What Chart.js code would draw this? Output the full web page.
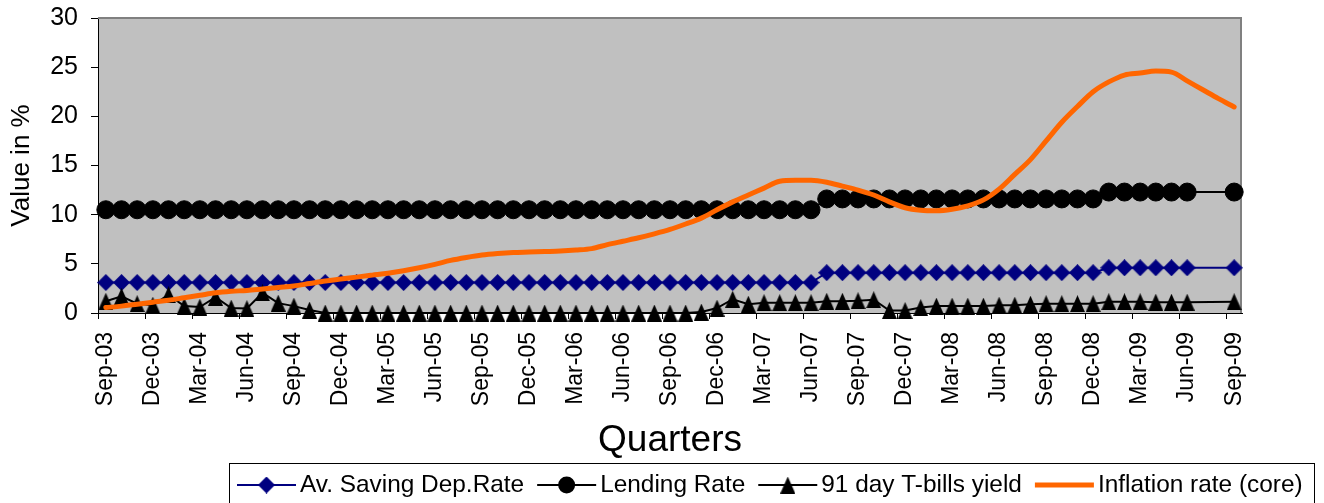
<!DOCTYPE html>
<html>
<head>
<meta charset="utf-8">
<title>Interest rates and inflation, Sep-03 to Sep-09</title>
<script src="https://cdn.jsdelivr.net/npm/chart.js@4.4.1/dist/chart.umd.min.js"></script>
<style>
  html, body { margin: 0; padding: 0; background: #ffffff; overflow: hidden; }
  canvas { display: block; }
</style>
</head>
<body>
<canvas id="rates" width="1324" height="503"></canvas>
<script>
// Monthly observations, September 2003 to September 2009
const months = [
  'Sep-03','Oct-03','Nov-03','Dec-03',
  'Jan-04','Feb-04','Mar-04','Apr-04','May-04','Jun-04','Jul-04','Aug-04','Sep-04','Oct-04','Nov-04','Dec-04',
  'Jan-05','Feb-05','Mar-05','Apr-05','May-05','Jun-05','Jul-05','Aug-05','Sep-05','Oct-05','Nov-05','Dec-05',
  'Jan-06','Feb-06','Mar-06','Apr-06','May-06','Jun-06','Jul-06','Aug-06','Sep-06','Oct-06','Nov-06','Dec-06',
  'Jan-07','Feb-07','Mar-07','Apr-07','May-07','Jun-07','Jul-07','Aug-07','Sep-07','Oct-07','Nov-07','Dec-07',
  'Jan-08','Feb-08','Mar-08','Apr-08','May-08','Jun-08','Jul-08','Aug-08','Sep-08','Oct-08','Nov-08','Dec-08',
  'Jan-09','Feb-09','Mar-09','Apr-09','May-09','Jun-09','Jul-09','Aug-09','Sep-09'
];

// Average savings deposit rate (%)
const savingRate = [
  3.1, 3.1, 3.1, 3.1,
  3.1, 3.1, 3.1, 3.1, 3.1, 3.1, 3.1, 3.1, 3.1, 3.1, 3.1, 3.1,
  3.1, 3.1, 3.1, 3.1, 3.1, 3.1, 3.1, 3.1, 3.1, 3.1, 3.1, 3.1,
  3.1, 3.1, 3.1, 3.1, 3.1, 3.1, 3.1, 3.1, 3.1, 3.1, 3.1, 3.1,
  3.1, 3.1, 3.1, 3.1, 3.1, 3.1, 4.1, 4.1, 4.1, 4.1, 4.1, 4.1,
  4.1, 4.1, 4.1, 4.1, 4.1, 4.1, 4.1, 4.1, 4.1, 4.1, 4.1, 4.1,
  4.6, 4.6, 4.6, 4.6, 4.6, 4.6, null, null, 4.6
];

// Lending rate (%)
const lendingRate = [
  10.5, 10.5, 10.5, 10.5,
  10.5, 10.5, 10.5, 10.5, 10.5, 10.5, 10.5, 10.5, 10.5, 10.5, 10.5, 10.5,
  10.5, 10.5, 10.5, 10.5, 10.5, 10.5, 10.5, 10.5, 10.5, 10.5, 10.5, 10.5,
  10.5, 10.5, 10.5, 10.5, 10.5, 10.5, 10.5, 10.5, 10.5, 10.5, 10.5, 10.5,
  10.5, 10.5, 10.5, 10.5, 10.5, 10.5, 11.6, 11.6, 11.6, 11.6, 11.6, 11.6,
  11.6, 11.6, 11.6, 11.6, 11.6, 11.6, 11.6, 11.6, 11.6, 11.6, 11.6, 11.6,
  12.3, 12.3, 12.3, 12.3, 12.3, 12.3, null, null, 12.3
];

// 91-day Treasury bill yield (%)
const tbillYield = [
  1.2, 1.7, 0.95, 0.8,
  1.85, 0.7, 0.6, 1.6, 0.5, 0.45, 2.05, 1.0, 0.7, 0.3, 0, 0,
  0, 0, 0, 0, 0, 0, 0, 0, 0, 0, 0, 0,
  0, 0, 0, 0, 0, 0, 0, 0, 0, 0, 0.1, 0.5,
  1.4, 0.9, 1.05, 1.05, 1.05, 1.05, 1.2, 1.2, 1.25, 1.35, 0.25, 0.25,
  0.55, 0.7, 0.7, 0.7, 0.7, 0.8, 0.8, 0.9, 0.95, 0.95, 0.95, 0.95,
  1.15, 1.15, 1.15, 1.1, 1.1, 1.1, null, null, 1.15
];

// Core inflation rate (%)
const coreInflation = [
  0.55, 0.7, 0.9, 1.1,
  1.3, 1.55, 1.8, 2.05, 2.2, 2.3, 2.45, 2.6, 2.75, 3.0, 3.25, 3.45,
  3.65, 3.85, 4.05, 4.3, 4.6, 4.95, 5.35, 5.65, 5.9, 6.05, 6.15, 6.2,
  6.25, 6.3, 6.4, 6.55, 6.95, 7.3, 7.65, 8.05, 8.5, 9.05, 9.65, 10.5,
  11.3, 12.0, 12.7, 13.4, 13.5, 13.5, 13.3, 12.9, 12.5, 12.0, 11.3, 10.7,
  10.45, 10.4, 10.55, 10.9, 11.5, 12.6, 14.1, 15.6, 17.5, 19.4, 21.0, 22.5,
  23.5, 24.2, 24.4, 24.6, 24.5, 23.6, 22.7, 21.8, 20.95
];

const FONT = '"Liberation Sans", Arial, Helvetica, sans-serif';

// Marker images: a slightly tall triangle and a diamond
function makeTriangle(w, h, color) {
  const c = document.createElement('canvas');
  c.width = w; c.height = h;
  const g = c.getContext('2d');
  g.fillStyle = color;
  g.beginPath();
  g.moveTo(w / 2, 0);
  g.lineTo(w, h);
  g.lineTo(0, h);
  g.closePath();
  g.fill();
  return c;
}
function makeDiamond(w, h, color) {
  const c = document.createElement('canvas');
  c.width = w; c.height = h;
  const g = c.getContext('2d');
  g.fillStyle = color;
  g.beginPath();
  g.moveTo(w / 2, 0);
  g.lineTo(w, h / 2);
  g.lineTo(w / 2, h);
  g.lineTo(0, h / 2);
  g.closePath();
  g.fill();
  return c;
}
const triangleMarker = makeTriangle(15, 17, '#000000');
const diamondMarker = makeDiamond(17, 17, '#000080');

// Gray plot area with a gray frame on its top and right sides
const plotFrame = {
  id: 'plotFrame',
  beforeDraw(chart) {
    const { ctx, chartArea: a } = chart;
    ctx.save();
    ctx.fillStyle = '#ffffff';
    ctx.fillRect(0, 0, chart.width, chart.height);
    ctx.fillStyle = '#C0C0C0';
    ctx.fillRect(a.left, a.top, a.right - a.left, a.bottom - a.top);
    ctx.restore();
  },
  beforeDatasetsDraw(chart) {
    const { ctx, chartArea: a } = chart;
    ctx.save();
    ctx.strokeStyle = '#808080';
    ctx.lineWidth = 2;
    ctx.beginPath();
    ctx.moveTo(a.left, a.top);
    ctx.lineTo(a.right - 1, a.top);
    ctx.lineTo(a.right - 1, a.bottom);
    ctx.stroke();
    ctx.restore();
  }
};

// Boxed legend below the axis title
function drawLegendMarker(ctx, ds, x, y) {
  if (ds.pointStyle === 'circle') {
    ctx.fillStyle = ds.pointBackgroundColor;
    ctx.beginPath(); ctx.arc(x, y, 8.5, 0, Math.PI * 2); ctx.fill();
  } else if (ds.pointStyle instanceof HTMLCanvasElement) {
    ctx.drawImage(ds.pointStyle, x - ds.pointStyle.width / 2, y - ds.pointStyle.height / 2);
  }
}
const boxedLegend = {
  id: 'boxedLegend',
  afterDraw(chart) {
    const ctx = chart.ctx;
    ctx.save();
    ctx.font = '24.4px ' + FONT;
    ctx.textBaseline = 'middle';
    ctx.textAlign = 'left';
    const y = 485;
    let x = 237;
    const items = chart.data.datasets.slice().sort((p, q) => p.legendIndex - q.legendIndex);
    items.forEach(ds => {
      ctx.strokeStyle = ds.borderColor;
      ctx.lineWidth = ds.borderWidth;
      ctx.lineCap = 'butt';
      ctx.beginPath(); ctx.moveTo(x, y); ctx.lineTo(x + 59, y); ctx.stroke();
      if (ds.pointRadius > 0) drawLegendMarker(ctx, ds, x + 29.5, y);
      ctx.fillStyle = '#000000';
      ctx.fillText(ds.label, x + 63, y);
      x = x + 63 + ctx.measureText(ds.label).width + 13;
    });
    ctx.strokeStyle = '#000000';
    ctx.lineWidth = 1;
    ctx.strokeRect(229.5, 463.5, Math.round(x - 2) - 229, 60);
    ctx.restore();
  }
};

Chart.defaults.font.family = FONT;
Chart.defaults.color = '#000000';

new Chart(document.getElementById('rates'), {
  type: 'line',
  data: {
    labels: months,
    datasets: [
      {
        label: 'Av. Saving Dep.Rate', legendIndex: 0, order: 4,
        data: savingRate,
        borderColor: '#000080', backgroundColor: '#000080', borderWidth: 2,
        pointStyle: diamondMarker, pointRadius: 8,
        pointBackgroundColor: '#000080', pointBorderColor: '#000080',
        spanGaps: true, tension: 0, clip: false
      },
      {
        label: 'Lending Rate', legendIndex: 1, order: 3,
        data: lendingRate,
        borderColor: '#000000', backgroundColor: '#000000', borderWidth: 2,
        pointStyle: 'circle', pointRadius: 9, pointBorderWidth: 1,
        pointBackgroundColor: '#000000', pointBorderColor: '#000000',
        spanGaps: true, tension: 0, clip: false
      },
      {
        label: '91 day T-bills yield', legendIndex: 2, order: 2,
        data: tbillYield,
        borderColor: '#000000', backgroundColor: '#000000', borderWidth: 2,
        pointStyle: triangleMarker, pointRadius: 8,
        spanGaps: true, tension: 0, clip: false
      },
      {
        label: 'Inflation rate (core)', legendIndex: 3, order: 1,
        data: coreInflation,
        borderColor: '#FF6600', backgroundColor: '#FF6600', borderWidth: 5,
        pointRadius: 0, cubicInterpolationMode: 'monotone',
        borderCapStyle: 'round', borderJoinStyle: 'round', clip: false
      }
    ]
  },
  options: {
    responsive: false,
    animation: false,
    devicePixelRatio: 1,
    events: [],
    layout: { padding: { left: 0, right: 82, top: 18, bottom: 43 } },
    plugins: {
      legend: { display: false },
      tooltip: { enabled: false }
    },
    scales: {
      x: {
        type: 'category',
        offset: true,
        grid: {
          offset: true,
          drawOnChartArea: false,
          drawTicks: true,
          tickLength: 6,
          color: '#000000',
          tickColor: (ctx) => (ctx.index % 3 === 0 ? '#000000' : 'rgba(0,0,0,0)')
        },
        border: { display: true, color: '#000000', width: 1 },
        ticks: {
          autoSkip: false,
          maxRotation: 90,
          minRotation: 90,
          padding: 13,
          font: { size: 23 },
          color: '#000000',
          callback: (value, index) => (index % 3 === 0 ? months[index] : '')
        },
        title: {
          display: true,
          text: 'Quarters',
          font: { size: 37, lineHeight: 1 },
          padding: { top: 0, bottom: 1 },
          color: '#000000'
        },
        afterFit: (scale) => {
          scale.height = 147;
          scale.paddingLeft = 0;
          scale.paddingRight = 0;
        }
      },
      y: {
        min: 0,
        max: 30,
        ticks: { stepSize: 5, padding: 13, font: { size: 25 }, color: '#000000' },
        grid: {
          drawOnChartArea: false,
          drawTicks: true,
          tickLength: 7,
          color: '#000000',
          tickColor: '#000000'
        },
        border: { display: true, color: '#000000', width: 1 },
        title: {
          display: true,
          text: 'Value in %',
          font: { size: 26, lineHeight: 1 },
          padding: { top: 9, bottom: 0 },
          color: '#000000'
        },
        afterFit: (scale) => {
          scale.width = 98;
          scale.paddingTop = 0;
          scale.paddingBottom = 0;
        }
      }
    }
  },
  plugins: [plotFrame, boxedLegend]
});
</script>
</body>
</html>
